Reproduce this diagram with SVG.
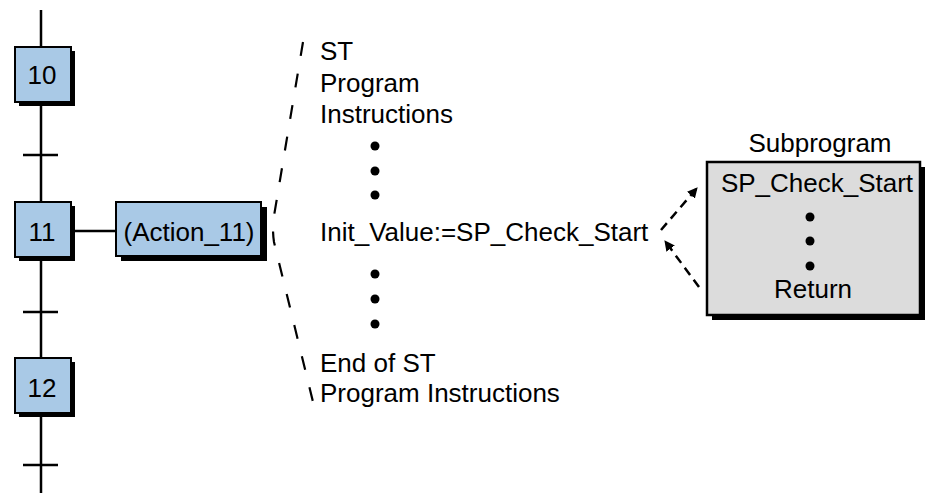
<svg xmlns="http://www.w3.org/2000/svg" width="926" height="493" viewBox="0 0 926 493">
<defs>
<style>
text{font-family:"Liberation Sans",Arial,sans-serif;font-size:26px;fill:#000}
.c{text-anchor:middle}
.step{fill:#a9c9e6;stroke:#000;stroke-width:2}
.sh{fill:#000}
.ln{stroke:#000;stroke-width:2.5;fill:none}
.dash{stroke:#000;stroke-width:2.2;fill:none;stroke-dasharray:14 18}
.adash{stroke:#000;stroke-width:2.5;fill:none;stroke-dasharray:9 6}
</style>
<marker id="ah" viewBox="0 0 10 10" refX="9" refY="5" markerWidth="4.2" markerHeight="4.2" orient="auto" markerUnits="strokeWidth">
<path d="M0,0 L10,5 L0,10 Z" fill="#000"/>
</marker>
</defs>
<rect width="926" height="493" fill="#fff"/>
<g id="connectors">
<line class="ln" x1="41" y1="10" x2="41" y2="493"/>
<line class="ln" x1="23" y1="155" x2="58" y2="155"/>
<line class="ln" x1="23" y1="312" x2="58" y2="312"/>
<line class="ln" x1="23" y1="465" x2="58" y2="465"/>
<line class="ln" x1="70" y1="231" x2="116" y2="231"/>
<path class="dash" d="M303,42 L274,216 Q272,229 274,242 L314,406"/>
<path class="adash" d="M661,230 L697,188" marker-end="url(#ah)"/>
<path class="adash" d="M699,287 L665,241" marker-end="url(#ah)"/>
</g>
<g id="step10">
<rect class="sh" x="19" y="51" width="56" height="55"/>
<rect class="step" x="15" y="47" width="56" height="55"/>
<text class="c" x="42" y="84">10</text>
</g>
<g id="step11">
<rect class="sh" x="19" y="206" width="56" height="55"/>
<rect class="step" x="15" y="202" width="56" height="55"/>
<text class="c" x="42" y="241">11</text>
</g>
<g id="step12">
<rect class="sh" x="19" y="362" width="56" height="55"/>
<rect class="step" x="15" y="358" width="56" height="55"/>
<text class="c" x="42" y="397">12</text>
</g>
<g id="action11">
<rect class="sh" x="121" y="207" width="146" height="54"/>
<rect class="step" x="116" y="202" width="145" height="54"/>
<text class="c" x="189" y="241">(Action_11)</text>
</g>
<g id="st-program">
<text x="320" y="60">ST</text>
<text x="320" y="92">Program</text>
<text x="320" y="123">Instructions</text>
<circle cx="375" cy="146" r="4.5"/>
<circle cx="375" cy="171" r="4.5"/>
<circle cx="375" cy="195" r="4.5"/>
<text x="320" y="241">Init_Value:=SP_Check_Start</text>
<circle cx="375" cy="274" r="4.5"/>
<circle cx="375" cy="299" r="4.5"/>
<circle cx="375" cy="324" r="4.5"/>
<text x="320" y="372">End of ST</text>
<text x="320" y="402">Program Instructions</text>
</g>
<g id="subprogram">
<text class="c" x="820" y="152">Subprogram</text>
<rect class="sh" x="712" y="167" width="213" height="153"/>
<rect x="707" y="162" width="213" height="153" fill="#dcdcdc" stroke="#000" stroke-width="2.5"/>
<text class="c" x="817" y="192">SP_Check_Start</text>
<circle cx="810" cy="217" r="4.5"/>
<circle cx="810" cy="241" r="4.5"/>
<circle cx="810" cy="266" r="4.5"/>
<text class="c" x="813" y="298">Return</text>
</g>
</svg>
